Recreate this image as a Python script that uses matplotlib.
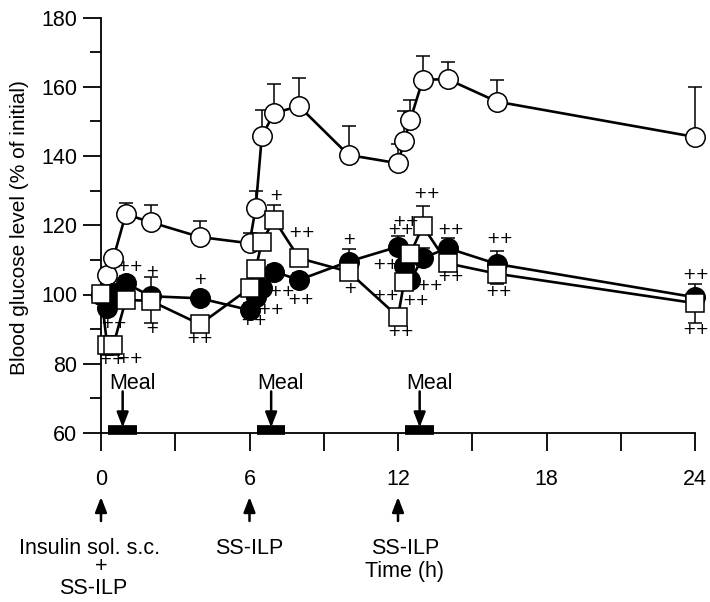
import matplotlib
matplotlib.use('Agg')
import matplotlib.pyplot as plt
from matplotlib import font_manager as fm
import matplotlib.transforms as mtrans


def pick(fams):
    for f in fams:
        try:
            fm.findfont(f, fallback_to_default=False)
            return f
        except Exception:
            pass
    return 'DejaVu Sans'


FONT = pick(['Liberation Sans Narrow', 'Liberation Sans', 'Arial'])
plt.rcParams['font.family'] = [FONT, 'DejaVu Sans']

# ---------------- data ----------------
times = [0, 0.25, 0.5, 1, 2, 4, 6, 6.25, 6.5, 7, 8, 10, 12, 12.25, 12.5, 13, 14, 16, 24]

open_v = [100, 105.7, 110.5, 123.2, 120.9, 116.6, 114.8, 125.0, 145.8, 152.4, 154.4,
          140.3, 137.9, 144.4, 150.5, 162.0, 162.2, 155.7, 145.5]
open_up = [0, 0, 0, 3.3, 5.0, 4.6, 3.0, 4.8, 7.4, 8.3, 8.0, 8.4, 5.5, 8.5, 5.7, 6.8, 5.0, 6.3, 14.4]

filled_v = [100, 96.0, 100.5, 103.3, 99.5, 98.9, 95.5, 99.4, 102.0, 106.6, 104.2,
            109.5, 113.8, 108.1, 104.2, 110.5, 113.4, 108.8, 99.2]
filled_up = [0, 0, 0, 2, 5.5, 2, 2, 2, 2, 2, 2, 3.7, 3, 3, 3, 3, 3, 3.7, 3.8]

square_v = [100.2, 85.4, 85.4, 98.4, 98.2, 91.4, 101.8, 107.3, 115.3, 121.6, 110.5,
            106.6, 93.6, 103.7, 111.7, 119.8, 109.0, 106.0, 97.5]
square_lo = [0, 3, 3, 2, 6.5, 2, 2, 2, 2, 0, 2, 2, 2, 2, 2, 2, 2, 3, 5.8]
square_up = [0, 0, 0, 0, 0, 0, 0, 0, 0, 4.3, 0, 0, 0, 0, 0, 5.8, 0, 0, 0]

# significance marks (time, level, text)
sig_t = [1.17, 2.05, 2.05, 0.5, 0.43, 1.17, 4.0, 4.0, 6.17, 6.84, 7.32, 8.06, 8.13, 7.09,
         10.0, 10.05, 13.16, 12.1, 12.3, 14.13, 11.5, 11.5, 12.7, 13.3, 14.13, 12.1,
         16.1, 16.07, 24.05, 24.05]
sig_v = [108.1, 106.6, 90.3, 91.7, 81.1, 81.6, 104.2, 87.4, 92.5, 95.8, 100.8, 98.6, 117.9, 128.6,
         116.0, 101.8, 129.3, 118.7, 121.1, 118.8, 108.6, 99.6, 98.2, 102.5, 105.2, 89.3,
         116.3, 100.8, 105.7, 89.8]
sig_txt = ['++', '+', '+', '++', '++', '++', '+', '++', '++', '++', '++', '++', '++', '+',
           '+', '+', '++', '++', '++', '++', '++', '++', '++', '++', '++', '++',
           '++', '++', '++', '++']

meal_start = [0.3, 6.3, 12.3]
meal_end = [1.45, 7.45, 13.45]
meal_label = 'Meal'

dose_t = [0, 6, 12]
dose_texts = ['Insulin sol. s.c.', '+', 'SS-ILP', 'SS-ILP', 'SS-ILP', 'Time (h)']
dose_text_t = [-0.45, 0.02, -0.3, 6.0, 12.3, 12.25]
dose_text_row = [549, 567, 588, 549, 549, 571]

xticks_major = [0, 6, 12, 18, 24]
xticks_minor = [3, 9, 15, 21]
yticks_major = [60, 80, 100, 120, 140, 160, 180]
yticks_minor = [70, 90, 110, 130, 150, 170]

# ---------------- figure ----------------
W, H = 710, 602
FS = 15.5
fig = plt.figure(figsize=(W / 100, H / 100), dpi=100)
ax_top, ax_bot = 17.5, 433
ax = fig.add_axes([101 / W, (H - ax_bot) / H, (695 - 101) / W, (ax_bot - ax_top) / H])
ax.set_xlim(0, 24)
ax.set_ylim(60, 180)


def fy(ypix):
    """pixel row (from top) -> axes fraction"""
    return (ax_bot - ypix) / (ax_bot - ax_top)


for s in ['top', 'right']:
    ax.spines[s].set_visible(False)
for s in ['left', 'bottom']:
    ax.spines[s].set_linewidth(1.3)

ax.set_xticks(xticks_major)
ax.set_xticks(xticks_minor, minor=True)
ax.set_yticks(yticks_major)
ax.set_yticks(yticks_minor, minor=True)
ax.tick_params(axis='x', which='both', direction='out', length=13, width=1.3,
               labelsize=FS, pad=13)
ax.tick_params(axis='y', which='major', direction='out', length=13, width=1.3,
               labelsize=FS, pad=4)
ax.tick_params(axis='y', which='minor', direction='out', length=8, width=1.3)
ax.set_ylabel('Blood glucose level (% of initial)', fontsize=15)
ax.yaxis.set_label_coords(-0.122, 0.495)

LW = 1.9
MS = 14
MEW = 1.1
CAP = 5

# open circles
ax.errorbar(times, open_v, yerr=[[0] * len(open_up), open_up], fmt='none', ecolor='k',
            elinewidth=1.1, capsize=CAP, capthick=1.1, zorder=2.5, clip_on=False)
ax.plot(times, open_v, '-', color='k', lw=LW, marker='o', ms=MS, mfc='white',
        mec='k', mew=MEW, zorder=3, clip_on=False)

# filled circles
ax.errorbar(times, filled_v, yerr=[[0] * len(filled_up), filled_up], fmt='none', ecolor='k',
            elinewidth=1.1, capsize=CAP, capthick=1.1, zorder=3.5, clip_on=False)
ax.plot(times, filled_v, '-', color='k', lw=LW, marker='o', ms=MS, mfc='black',
        mec='k', mew=MEW, zorder=4, clip_on=False)

# squares
ax.errorbar(times, square_v, yerr=[square_lo, square_up], fmt='none', ecolor='k',
            elinewidth=1.1, capsize=CAP, capthick=1.1, zorder=4.5, clip_on=False)
ax.plot(times, square_v, '-', color='k', lw=LW, marker='s', ms=MS - 1, mfc='white',
        mec='k', mew=MEW, zorder=5, clip_on=False)

for t, v, s in zip(sig_t, sig_v, sig_txt):
    ax.text(t, v, s, ha='center', va='center', fontsize=11.5, zorder=6,
            family='DejaVu Sans', clip_on=False)

# meals
for a, b in zip(meal_start, meal_end):
    ax.plot([a, b], [60.8, 60.8], color='k', lw=7, solid_capstyle='butt', zorder=6,
            clip_on=False)
    c = (a + b) / 2
    ax.annotate('', xy=(c, 61.6), xytext=(c, 72.0),
                arrowprops=dict(arrowstyle='-|>,head_length=0.9,head_width=0.35',
                                color='k', lw=1.8, shrinkA=0, shrinkB=0), zorder=6)
    ax.text(c - 0.55, 74.3, meal_label, ha='left', va='center', fontsize=FS)

# dosing arrows beneath axis
tr = mtrans.blended_transform_factory(ax.transData, ax.transAxes)
for t in dose_t:
    ax.annotate('', xy=(t, fy(497)), xytext=(t, fy(521)), xycoords=tr, textcoords=tr,
                arrowprops=dict(arrowstyle='-|>,head_length=0.9,head_width=0.35',
                                color='k', lw=1.8, shrinkA=0, shrinkB=0),
                annotation_clip=False)
for s, t, row in zip(dose_texts, dose_text_t, dose_text_row):
    ax.text(t, fy(row), s, transform=tr, ha='center', va='center', fontsize=FS)

fig.savefig('out.png', dpi=100)
